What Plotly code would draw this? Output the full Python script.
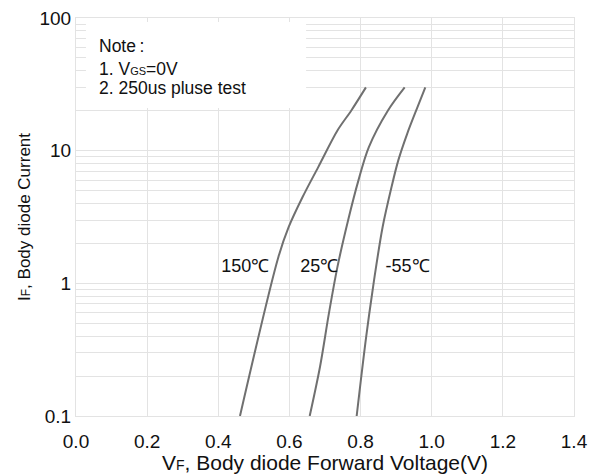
import plotly.graph_objects as go

# ---- data ----
v_150 = [0.461, 0.569, 0.598, 0.637, 0.681, 0.735, 0.774, 0.815]
i_150 = [0.1, 1.58, 2.66, 4.47, 7.52, 14.2, 20.1, 30.0]

v_25 = [0.657, 0.686, 0.711, 0.735, 0.765, 0.794, 0.823, 0.877, 0.924]
i_25 = [0.1, 0.235, 0.593, 1.33, 2.99, 5.97, 10.6, 20.1, 30.0]

v_m55 = [0.789, 0.816, 0.838, 0.862, 0.887, 0.906, 0.931, 0.960, 0.982]
i_m55 = [0.1, 0.40, 1.06, 2.66, 5.32, 8.45, 13.4, 21.3, 30.0]

curve_labels = ["150℃", "25℃", "-55℃"]
label_x = [0.476, 0.684, 0.932]
label_y = [1.32, 1.32, 1.32]

x_ticks = [0.0, 0.2, 0.4, 0.6, 0.8, 1.0, 1.2, 1.4]
x_ticktext = ["0.0", "0.2", "0.4", "0.6", "0.8", "1.0", "1.2", "1.4"]
y_ticks = [0.1, 1, 10, 100]
y_ticktext = ["0.1", "1", "10", "100"]

note_lines = ["Note\u2009:", "1. V<span style='font-size:11px'>GS</span>=0V", "2. 250us pluse test"]

FONT = "Liberation Sans, Arial, sans-serif"
CURVE = "#707070"
GRID = "#e3e3e3"

fig = go.Figure()
for vx, iy in [(v_150, i_150), (v_25, i_25), (v_m55, i_m55)]:
    fig.add_trace(go.Scatter(x=vx, y=iy, mode="lines",
                             line=dict(color=CURVE, width=2, shape="spline", smoothing=0.9),
                             showlegend=False, hoverinfo="skip"))

fig.add_trace(go.Scatter(x=label_x, y=label_y, mode="text", text=curve_labels,
                         textfont=dict(family=FONT, size=18, color="#111"),
                         showlegend=False, hoverinfo="skip"))

# white note box covering grid
fig.add_shape(type="rect", xref="paper", yref="paper", x0=0.020, x1=0.462, y0=0.774, y1=0.990,
              fillcolor="white", line=dict(width=0), layer="above")

note_y = [0.930, 0.872, 0.825]
for t, yy in zip(note_lines, note_y):
    fig.add_annotation(text=t, xref="paper", yref="paper", x=0.042, y=yy,
                       xanchor="left", yanchor="middle", showarrow=False,
                       font=dict(family=FONT, size=17.5, color="#111"))

fig.update_layout(
    width=605, height=474,
    margin=dict(l=76, r=31, t=18, b=58),
    paper_bgcolor="white", plot_bgcolor="white",
    font=dict(family=FONT, size=17, color="#111"),
    xaxis=dict(range=[0, 1.4], tickvals=x_ticks, ticktext=x_ticktext, automargin=False,
               showgrid=True, gridcolor=GRID, gridwidth=1, zeroline=False,
               showline=True, linecolor=GRID, mirror=True, ticks="",
               tickfont=dict(size=19), ticklabelstandoff=8,
               title=dict(text="V<span style='font-size:14px'>F</span>, Body diode Forward Voltage(V)",
                          font=dict(size=21), standoff=2)),
    yaxis=dict(type="log", range=[-1, 2], tickvals=y_ticks, ticktext=y_ticktext, automargin=False,
               showgrid=True, gridcolor=GRID, gridwidth=1, zeroline=False,
               showline=True, linecolor=GRID, mirror=True, ticks="",
               tickfont=dict(size=19),
               minor=dict(showgrid=True, gridcolor=GRID, dtick="D1", ticks=""),
               title=dict(text="I<span style='font-size:12px'>F</span>, Body diode Current",
                          font=dict(size=17), standoff=4)),
)

fig.write_html("out.html")
